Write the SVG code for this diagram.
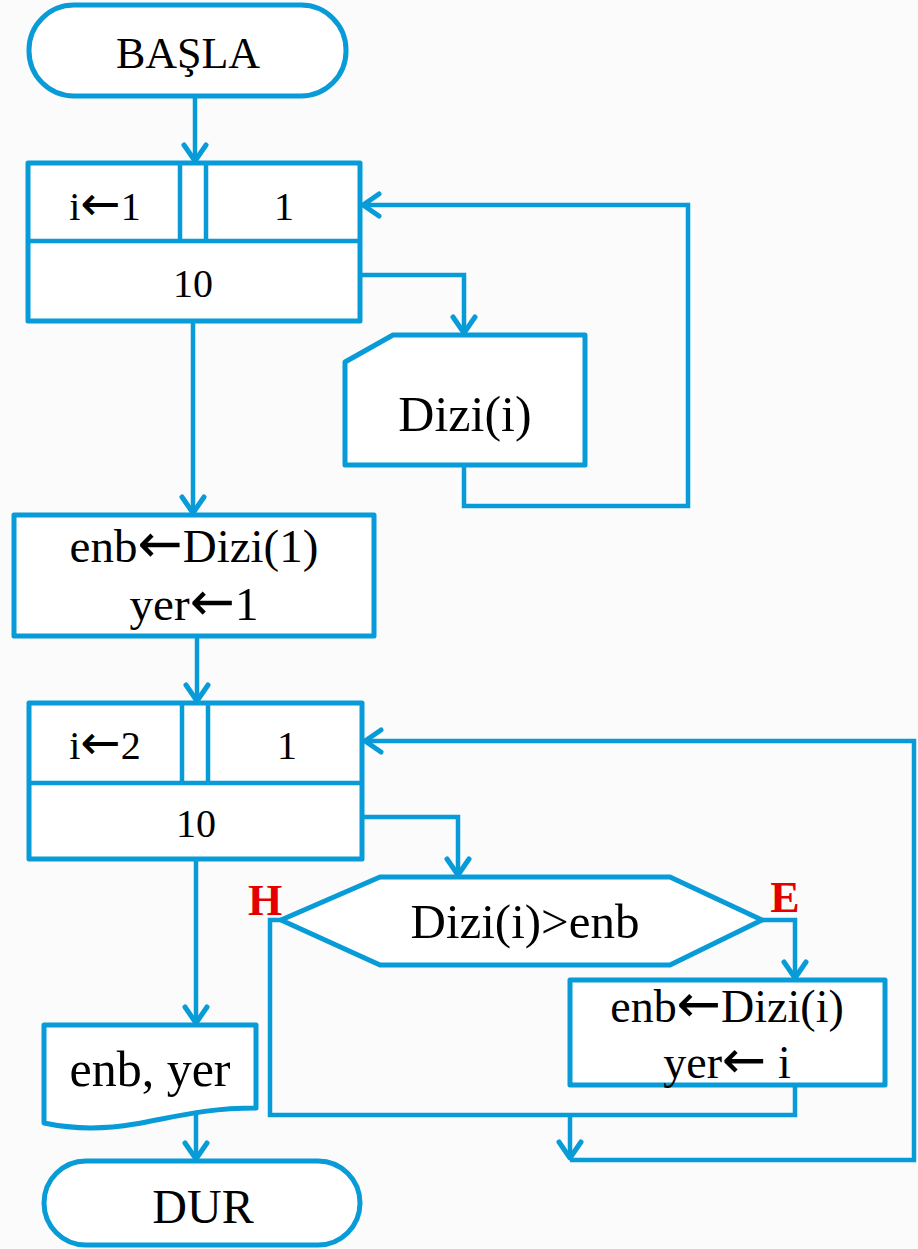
<svg xmlns="http://www.w3.org/2000/svg" width="918" height="1249" viewBox="0 0 918 1249">
<defs>
<style>
.s{fill:#fff;stroke:#079bd7;stroke-width:5;stroke-linejoin:round}
.c{fill:none;stroke:#079bd7;stroke-width:4.5}
.t{font-family:"Liberation Serif",serif;fill:#000;text-anchor:middle}
.ar{font-family:"DejaVu Sans",sans-serif}
.l{font-family:"Liberation Serif",serif;font-weight:bold;fill:#e40000;text-anchor:middle;font-size:44px}
</style>
<marker id="a" markerUnits="userSpaceOnUse" markerWidth="30" markerHeight="30" viewBox="-25 -15 30 30" refX="0" refY="0" orient="auto">
<path d="M-16,-11 L0,0 L-16,11" fill="none" stroke="#079bd7" stroke-width="5" stroke-linecap="round" stroke-linejoin="round"/>
</marker>
</defs>
<rect width="918" height="1249" fill="#fbfbfb"/>
<g id="connectors">
<path class="c" d="M195,96 V161" marker-end="url(#a)"/>
<path class="c" d="M464,466 V506 H688 V205 H363" marker-end="url(#a)"/>
<path class="c" d="M360,275 H464 V333" marker-end="url(#a)"/>
<path class="c" d="M193,321 V513" marker-end="url(#a)"/>
<path class="c" d="M197,636 V701" marker-end="url(#a)"/>
<path class="c" d="M362,817 H458 V875" marker-end="url(#a)"/>
<path class="c" d="M281,920 H270 V1115 H795 V1085"/>
<path class="c" d="M762,920 H795 V978" marker-end="url(#a)"/>
<path class="c" d="M570,1115 V1158" marker-end="url(#a)"/>
<path class="c" d="M570,1160 H914 V741 H365" marker-end="url(#a)"/>
<path class="c" d="M196,859 V1023" marker-end="url(#a)"/>
<path class="c" d="M196,1112 V1159" marker-end="url(#a)"/>
</g>
<g id="start">
<rect class="s" x="29" y="5" width="317" height="91" rx="45"/>
<text class="t" x="188" y="68" font-size="44">BAŞLA</text>
</g>
<g id="loop1">
<rect class="s" x="28" y="163" width="332" height="158"/>
<path class="c" d="M28,241 H360 M180,163 V241 M206,163 V241" stroke-width="5"/>
<text class="t" x="105" y="220" font-size="40">i<tspan class="ar" font-size="48">←</tspan>1</text>
<text class="t" x="284" y="220" font-size="40">1</text>
<text class="t" x="193" y="297" font-size="40">10</text>
</g>
<g id="input">
<path class="s" d="M345,362 L393,335 H585 V465 H345 Z"/>
<text class="t" x="465" y="431" font-size="50">Dizi(i)</text>
</g>
<g id="init">
<rect class="s" x="14" y="515" width="360" height="121"/>
<text class="t" x="194" y="562" font-size="47">enb<tspan class="ar" font-size="54">←</tspan>Dizi(1)</text>
<text class="t" x="194" y="620" font-size="47">yer<tspan class="ar" font-size="54">←</tspan>1</text>
</g>
<g id="loop2">
<rect class="s" x="29" y="703" width="333" height="156"/>
<path class="c" d="M29,783 H362 M182,703 V783 M208,703 V783" stroke-width="5"/>
<text class="t" x="105" y="759" font-size="40">i<tspan class="ar" font-size="48">←</tspan>2</text>
<text class="t" x="287" y="759" font-size="40">1</text>
<text class="t" x="196" y="837" font-size="40">10</text>
</g>
<g id="decision">
<polygon class="s" points="281,920 380,877 670,877 762,920 670,965 380,965"/>
<text class="t" x="525" y="938" font-size="49">Dizi(i)&gt;enb</text>
</g>
<g id="labelH"><text class="l" x="265" y="915">H</text></g>
<g id="labelE"><text class="l" x="785" y="912">E</text></g>
<g id="update">
<rect class="s" x="570" y="980" width="315" height="105"/>
<text class="t" x="727" y="1022" font-size="46">enb<tspan class="ar" font-size="53">←</tspan>Dizi(i)</text>
<text class="t" x="727" y="1078" font-size="46">yer<tspan class="ar" font-size="53">←</tspan> i</text>
</g>
<g id="output">
<path class="s" d="M44,1025 H256 V1108 C205,1108 175,1117 135,1124 C100,1130 72,1129 44,1123 Z"/>
<text class="t" x="150" y="1086" font-size="50">enb, yer</text>
</g>
<g id="end">
<rect class="s" x="44" y="1161" width="316" height="84" rx="42"/>
<text class="t" x="203" y="1223" font-size="48">DUR</text>
</g>
</svg>
